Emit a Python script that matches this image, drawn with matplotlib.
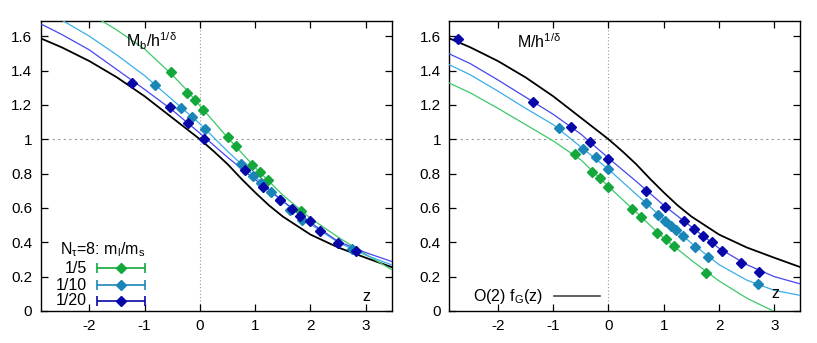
"""
Scaled order parameter vs z for N_tau=8, compared to the O(2) scaling function.
"""

import matplotlib.pyplot as plt

plt.rcParams["font.family"] = ["Liberation Sans", "DejaVu Sans"]
plt.rcParams["mathtext.fontset"] = "custom"
plt.rcParams["mathtext.rm"] = "Liberation Sans"
plt.rcParams["mathtext.it"] = "Liberation Sans"

# O(2) scaling function f_G(z)
fg_z = [-2.9, -2.5, -2.0, -1.5, -1.0, -0.5, 0.0, 0.25, 0.5, 0.75, 1.0, 1.25, 1.5, 2.0, 2.5, 3.0, 3.5]
fg_y = [1.59, 1.535, 1.455, 1.36, 1.25, 1.125, 1.0, 0.93, 0.855, 0.77, 0.69, 0.615, 0.55, 0.445, 0.37, 0.31, 0.252]

# left panel: M_b / h^(1/delta)
left_curve_z = {
    "1/5": [-1.78, -1.5, -1.0, -0.5, -0.25, 0.0, 0.5, 1.0, 1.5, 2.0, 2.5, 3.0, 3.5],
    "1/10": [-2.48, -2.0, -1.5, -1.0, -0.5, 0.0, 0.5, 1.0, 1.5, 2.0, 2.5, 3.0, 3.5],
    "1/20": [-2.9, -2.5, -2.0, -1.5, -1.0, -0.5, 0.0, 0.5, 1.0, 1.5, 2.0, 2.5, 3.0, 3.5],
}
left_curve_y = {
    "1/5": [1.69, 1.635, 1.525, 1.375, 1.29, 1.195, 1.01, 0.835, 0.675, 0.54, 0.43, 0.33, 0.235],
    "1/10": [1.69, 1.60, 1.49, 1.37, 1.23, 1.09, 0.93, 0.78, 0.64, 0.505, 0.40, 0.325, 0.265],
    "1/20": [1.675, 1.61, 1.52, 1.405, 1.29, 1.17, 1.035, 0.895, 0.765, 0.64, 0.515, 0.405, 0.34, 0.285],
}
left_pts_z = {
    "1/5": [-0.53, -0.235, -0.084, 0.06, 0.5, 0.65, 0.946, 1.09, 1.235, 1.825],
    "1/10": [-0.81, -0.35, -0.14, 0.09, 0.75, 0.96, 1.10, 1.28, 1.45, 1.63, 1.85, 2.75],
    "1/20": [-1.22, -0.54, -0.21, 0.07, 0.81, 1.14, 1.45, 1.66, 1.81, 1.99, 2.17, 2.49, 2.83],
}
left_pts_y = {
    "1/5": [1.392, 1.27, 1.229, 1.171, 1.012, 0.961, 0.849, 0.81, 0.761, 0.581],
    "1/10": [1.317, 1.184, 1.132, 1.062, 0.854, 0.788, 0.745, 0.695, 0.648, 0.59, 0.53, 0.362],
    "1/20": [1.33, 1.186, 1.097, 1.0, 0.82, 0.724, 0.646, 0.594, 0.555, 0.526, 0.468, 0.394, 0.35],
}

# right panel: M / h^(1/delta)
right_curve_z = {
    "1/5": [-2.9, -2.5, -2.0, -1.5, -1.0, -0.5, 0.0, 0.5, 1.0, 1.5, 2.0, 2.5, 2.98],
    "1/10": [-2.9, -2.5, -2.0, -1.5, -1.0, -0.5, 0.0, 0.5, 1.0, 1.5, 2.0, 2.5, 3.0, 3.5],
    "1/20": [-2.9, -2.5, -2.0, -1.5, -1.0, -0.5, 0.0, 0.5, 1.0, 1.5, 2.0, 2.5, 3.0, 3.5],
}
right_curve_y = {
    "1/5": [1.33, 1.27, 1.18, 1.085, 0.99, 0.88, 0.725, 0.575, 0.425, 0.295, 0.175, 0.075, 0.0],
    "1/10": [1.437, 1.375, 1.28, 1.18, 1.085, 0.955, 0.825, 0.68, 0.535, 0.395, 0.27, 0.18, 0.12, 0.089],
    "1/20": [1.50, 1.44, 1.345, 1.245, 1.145, 1.03, 0.89, 0.755, 0.615, 0.49, 0.365, 0.27, 0.20, 0.155],
}
right_pts_z = {
    "1/5": [-0.602, -0.301, -0.151, 0.0, 0.434, 0.59, 0.88, 1.036, 1.187, 1.771],
    "1/10": [-0.898, -0.458, -0.223, 0.0, 0.675, 0.898, 1.018, 1.127, 1.229, 1.349, 1.572, 1.801, 2.705],
    "1/20": [-2.717, -1.361, -0.681, -0.337, 0.0, 0.687, 1.03, 1.361, 1.542, 1.711, 1.88, 2.054, 2.39, 2.72],
}
right_pts_y = {
    "1/5": [0.913, 0.81, 0.775, 0.724, 0.592, 0.548, 0.452, 0.419, 0.379, 0.223],
    "1/10": [1.068, 0.944, 0.897, 0.825, 0.627, 0.559, 0.526, 0.493, 0.472, 0.437, 0.371, 0.313, 0.155],
    "1/20": [1.584, 1.214, 1.07, 0.981, 0.883, 0.701, 0.606, 0.522, 0.48, 0.439, 0.404, 0.35, 0.278, 0.229],
}

ratios = ["1/5", "1/10", "1/20"]
point_colors = {"1/5": "#14a83c", "1/10": "#1a86b8", "1/20": "#0808a8"}
line_colors = {"1/5": "#3cc868", "1/10": "#3aaee6", "1/20": "#4646f0"}

x_ticks = [-2, -1, 0, 1, 2, 3]
y_ticks = [0, 0.2, 0.4, 0.6, 0.8, 1.0, 1.2, 1.4, 1.6]
y_ticklabels = ["0", "0.2", "0.4", "0.6", "0.8", "1", "1.2", "1.4", "1.6"]


def style_axes(ax):
    ax.set_xlim(-2.88, 3.47)
    ax.set_ylim(0, 1.69)
    ax.set_xticks(x_ticks)
    ax.set_xticklabels([str(t) for t in x_ticks])
    ax.set_yticks(y_ticks)
    ax.set_yticklabels(y_ticklabels)
    ax.tick_params(direction="in", top=True, right=True, length=5, width=0.9, labelsize=11, pad=6)
    for s in ax.spines.values():
        s.set_linewidth(1.0)
    ax.axvline(0, color="#999999", lw=0.8, ls=(0, (1, 2)), zorder=0)
    ax.axhline(1, color="#999999", lw=0.8, ls=(0, (2, 3)), zorder=0)


def draw_panel(ax, curve_z, curve_y, pts_z, pts_y):
    ax.plot(fg_z, fg_y, color="black", lw=1.3, zorder=2)
    for r in ratios:
        ax.plot(curve_z[r], curve_y[r], color=line_colors[r], lw=0.9, zorder=3)
        ax.errorbar(pts_z[r], pts_y[r], yerr=0.008, fmt="D", ms=5.5, color=point_colors[r],
                    ecolor=point_colors[r], elinewidth=1, capsize=0, zorder=4)
    style_axes(ax)


fig = plt.figure(figsize=(8.17, 3.43), dpi=100)
W, H = 817, 343
ax1 = fig.add_axes([40.7 / W, 32 / H, 351 / W, 290.3 / H])
ax2 = fig.add_axes([449.3 / W, 32 / H, 351 / W, 290.3 / H])

draw_panel(ax1, left_curve_z, left_curve_y, left_pts_z, left_pts_y)
draw_panel(ax2, right_curve_z, right_curve_y, right_pts_z, right_pts_y)

ax1.text(-1.33, 1.57, r"M$_\mathrm{b}$/h$^{1/\delta}$", fontsize=11.5, va="center")
ax2.text(-1.66, 1.57, r"M/h$^{1/\delta}$", fontsize=11.5, va="center")
ax1.text(3.01, 0.085, "z", fontsize=11.5, ha="center", va="center")
ax2.text(3.02, 0.10, "z", fontsize=11.5, ha="center", va="center")

# key of the left panel, drawn in data coordinates like gnuplot does
ax1.text(-2.53, 0.36, r"N$_\tau$=8: m$_\mathrm{l}$/m$_\mathrm{s}$", fontsize=11.5, va="center")
key_y = [0.249, 0.151, 0.06]
for r, ky in zip(ratios, key_y):
    ax1.text(-2.05, ky, r, fontsize=11.5, ha="right", va="center")
    ax1.errorbar([-1.43], [ky], xerr=[[0.43], [0.43]], fmt="D", ms=5.5, color=point_colors[r],
                 elinewidth=1.2, capsize=3.5, capthick=1.2)

ax2.text(-1.19, 0.087, r"O(2) f$_\mathrm{G}$(z)", fontsize=11.5, ha="right", va="center")
ax2.plot([-0.99, -0.15], [0.087, 0.087], color="#444444", lw=1.2)

fig.savefig("out.png", dpi=100)
